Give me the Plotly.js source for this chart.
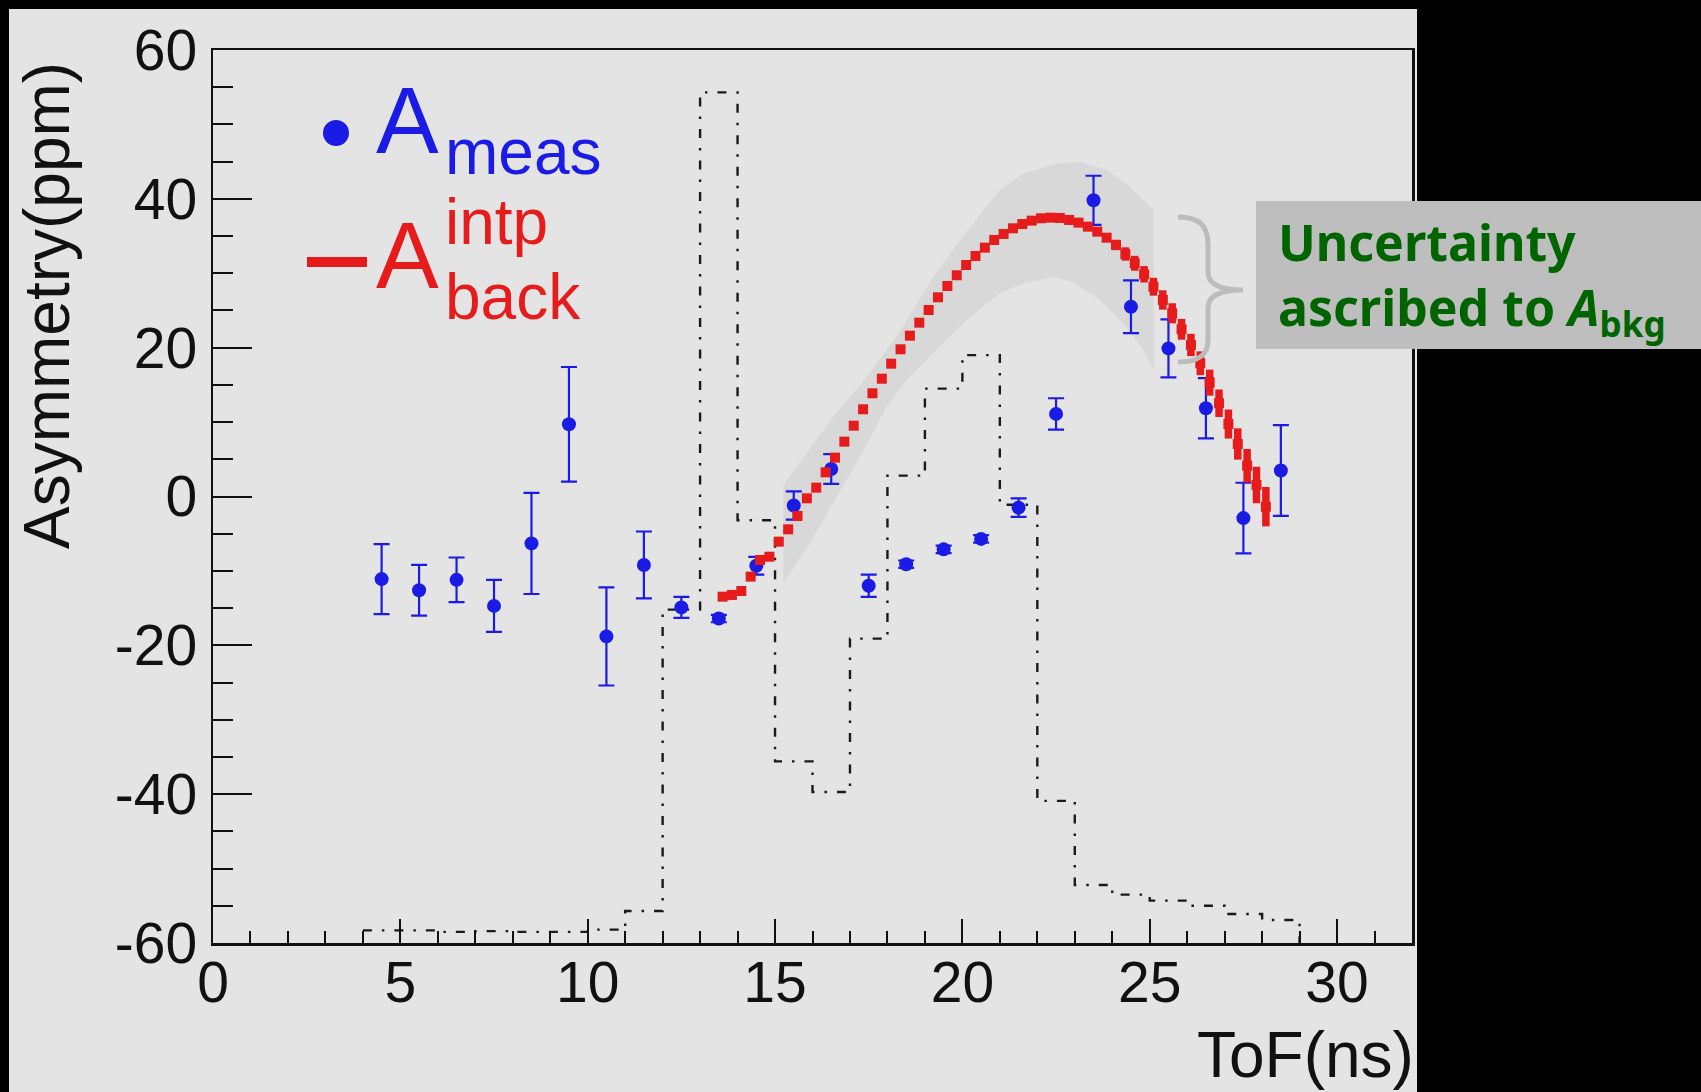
<!DOCTYPE html>
<html><head><meta charset="utf-8">
<script src="https://cdn.plot.ly/plotly-3.0.1.min.js"></script>
<style>html,body{margin:0;padding:0;background:#000;}#chart{width:1701px;height:1092px;}</style>
</head><body><div id="chart"></div>
<script>
// ---- Data ----
const measX = [4.5,5.5,6.5,7.5,8.5,9.5,10.5,11.5,12.5,13.5,14.5,15.5,16.5,17.5,18.5,19.5,20.5,21.5,22.5,23.5,24.5,25.5,26.5,27.5,28.5];
const measY = [-11.1,-12.6,-11.2,-14.7,-6.3,9.7,-18.8,-9.2,-14.9,-16.4,-9.3,-1.2,3.7,-12.0,-9.1,-7.1,-5.7,-1.5,11.1,39.8,25.5,19.9,11.85,-2.9,3.5];
const measErr = [4.7,3.4,3.0,3.5,6.8,7.7,6.6,4.5,1.4,0.5,1.2,1.9,2.0,1.5,0.5,0.5,0.5,1.25,2.1,3.3,3.55,3.9,4.05,4.75,6.1];

const bkgX = [13.60,13.85,14.10,14.35,14.60,14.85,15.10,15.35,15.60,15.85,16.10,16.35,16.60,16.85,17.10,17.35,17.60,17.85,18.10,18.35,18.60,18.85,19.10,19.35,19.60,19.85,20.10,20.35,20.60,20.85,21.10,21.35,21.60,21.85,22.10,22.35,22.60,22.85,23.10,23.35,23.60,23.85,24.10,24.35,24.60,24.85,25.10,25.35,25.60,25.85,26.10,26.35,26.60,26.85,27.10,27.35,27.60,27.85,28.10];
const bkgY = [-13.46,-13.23,-12.70,-10.77,-8.53,-8.09,-6.07,-4.41,-2.62,-0.24,1.19,3.25,5.22,7.37,9.52,11.72,13.87,15.83,17.85,19.78,21.61,23.36,25.06,26.77,28.29,29.73,31.11,32.32,33.44,34.47,35.28,36.04,36.62,37.07,37.39,37.47,37.43,37.16,36.80,36.26,35.59,34.78,33.80,32.59,31.34,29.86,28.19,26.41,24.62,22.47,20.36,17.90,15.30,12.53,9.74,7.06,4.14,1.55,-1.37];
const bkgErr = [0.3,0.3,0.3,0.3,0.3,0.3,0.3,0.3,0.3,0.3,0.3,0.3,0.3,0.3,0.3,0.3,0.3,0.3,0.3,0.3,0.3,0.3,0.3,0.3,0.3,0.3,0.3,0.3,0.3,0.3,0.3,0.3,0.3,0.3,0.3,0.35,0.35,0.4,0.4,0.45,0.5,0.5,0.7,0.9,1.0,1.1,1.2,1.3,1.35,1.4,1.5,1.6,1.75,1.85,1.95,2.1,2.25,2.45,2.65];

const bandUpperX = [15.22,15.67,16.55,17.45,18.33,19.22,20.11,21.00,21.63,22.52,23.14,23.85,24.47,25.10];
const bandUpperY = [1.55,4.68,10.73,16.10,22.15,29.54,35.59,41.2,43.4,44.7,44.9,43.9,41.6,38.5];
const bandLowerX = [15.22,15.93,16.55,17.27,17.98,18.51,19.22,20.11,21.00,21.63,22.43,22.96,23.67,24.29,24.83,25.11];
const bandLowerY = [-11.66,-6.29,-0.91,5.35,12.07,15.66,19.24,23.72,27.3,28.65,29.46,28.87,26.41,23.28,19.69,17.0];

const histEdges = [4,5,6,7,8,9,10,11,12,13,14,15,16,17,18,19,20,21,22,23,24,25,26,27,28,29];
const histVals = [-58.3,-58.3,-58.5,-58.4,-58.5,-58.5,-58.2,-55.7,-15.2,54.3,-3.2,-35.6,-39.7,-19.1,2.8,14.5,19.0,-1.1,-40.9,-52.2,-53.5,-54.3,-55.0,-56.1,-56.9,-60];

const xTickVals = [0,5,10,15,20,25,30];
const xTickText = ['0','5','10','15','20','25','30'];
const yTickVals = [-60,-40,-20,0,20,40,60];
const yTickText = ['-60','-40','-20','0','20','40','60'];

// ---- Layout geometry (pixels) ----
const L = 213, T = 50, W = 1199, H = 893;
const px = v => (v - L) / W;
const py = v => (T + H - v) / H;

const BLUE = '#1b1be6', RED = '#e61c1c', BG = '#e4e4e4';
const FONT = 'Liberation Sans, Arial, Helvetica, sans-serif';
const GFONT = 'Noto Sans, DejaVu Sans, sans-serif';

const bandX = bandUpperX.concat(bandLowerX.slice().reverse());
const bandY = bandUpperY.concat(bandLowerY.slice().reverse());

const traces = [
  {x: bandX, y: bandY, mode: 'lines', fill: 'toself', fillcolor: '#d8d8d8', line: {width: 0}, hoverinfo: 'skip', showlegend: false},
  {x: histEdges, y: histVals, mode: 'lines', line: {shape: 'hv', dash: '9px,10px,2.5px,10px', width: 2.4, color: '#1a1a1a'}, showlegend: false},
  {x: measX, y: measY, mode: 'markers', marker: {size: 14, color: BLUE},
   error_y: {type: 'data', array: measErr, visible: true, color: BLUE, thickness: 2.2, width: 8}, showlegend: false},
  {x: bkgX, y: bkgY, mode: 'markers', marker: {symbol: 'square', size: 10, color: RED},
   error_y: {type: 'data', array: bkgErr, visible: true, color: RED, thickness: 7.5, width: 0}, showlegend: false}
];

const brace = [[1178,217],[1200,217],[1208,226],[1208,245],[1208,272],[1208,284],[1220,290],[1243,290],[1220,290],[1208,296],[1208,308],[1208,340],[1208,354],[1200,362],[1178,362]];
const P = p => px(p[0]) + ',' + py(p[1]);
const bracePath = 'M' + P(brace[0]) + ' C' + P(brace[1]) + ' ' + P(brace[2]) + ' ' + P(brace[3]) +
  ' L' + P(brace[4]) + ' C' + P(brace[5]) + ' ' + P(brace[6]) + ' ' + P(brace[7]) +
  ' C' + P(brace[8]) + ' ' + P(brace[9]) + ' ' + P(brace[10]) +
  ' L' + P(brace[11]) + ' C' + P(brace[12]) + ' ' + P(brace[13]) + ' ' + P(brace[14]);

const shapes = [
  {type: 'rect', xref: 'paper', yref: 'paper', x0: px(9), x1: px(1417), y0: py(1100), y1: py(9), fillcolor: BG, line: {width: 0}, layer: 'below'},
  {type: 'circle', xref: 'paper', yref: 'paper', x0: px(323), x1: px(349), y0: py(146), y1: py(120), fillcolor: BLUE, line: {width: 0}},
  {type: 'line', xref: 'paper', yref: 'paper', x0: px(307), x1: px(367), y0: py(262), y1: py(262), line: {color: RED, width: 10}},
  {type: 'rect', xref: 'paper', yref: 'paper', x0: px(1256), x1: px(1710), y0: py(349), y1: py(201), fillcolor: '#bebebe', line: {width: 0}, layer: 'above'},
  {type: 'path', xref: 'paper', yref: 'paper', path: bracePath, line: {color: '#bcbcbc', width: 5}, layer: 'above'}
];

const ann = (text, x, y, size, color, xa, ya, extra) => Object.assign({
  text: text, xref: 'paper', yref: 'paper', x: px(x), y: py(y), showarrow: false,
  xanchor: xa, yanchor: ya, font: {family: FONT, size: size, color: color}
}, extra || {});

const annotations = [
  ann('A', 374, 120, 94, BLUE, 'left', 'middle'),
  ann('meas', 443, 152, 64, BLUE, 'left', 'middle'),
  ann('A', 374, 255, 94, RED, 'left', 'middle'),
  ann('intp', 443, 222, 64, RED, 'left', 'middle'),
  ann('back', 443, 297, 64, RED, 'left', 'middle'),
  ann('Asymmetry(ppm)', 47, 306, 64, '#111', 'center', 'middle', {textangle: -90}),
  ann('ToF(ns)', 1416, 1055, 64, '#111', 'right', 'middle'),
  ann('Uncertainty<br>ascribed to <i>A</i><sub>bkg</sub>', 1276, 277, 50, '#006400', 'left', 'middle',
      {align: 'left', font: {family: GFONT, size: 50, color: '#006400', weight: 'bold'}})
];

const axisCommon = {
  showgrid: false, zeroline: false, showline: true, linecolor: '#111', linewidth: 2.5, mirror: true,
  ticks: 'inside', tickcolor: '#111', tickwidth: 2, tickmode: 'array',
  tickfont: {family: FONT, size: 57, color: '#111'}
};

const layout = {
  width: 1701, height: 1092,
  margin: {l: L, r: 1701 - L - W, t: T, b: 1092 - T - H, pad: 0},
  paper_bgcolor: '#000000', plot_bgcolor: 'rgba(0,0,0,0)',
  showlegend: false,
  xaxis: Object.assign({}, axisCommon, {range: [0, 32], tickvals: xTickVals, ticktext: xTickText, ticklen: 24, ticklabelstandoff: -12,
    minor: {ticks: 'inside', dtick: 1, tick0: 0, ticklen: 12, tickwidth: 2, tickcolor: '#111', showgrid: false}}),
  yaxis: Object.assign({}, axisCommon, {range: [-60, 60], tickvals: yTickVals, ticktext: yTickText, ticklen: 39, ticklabelstandoff: 2,
    minor: {ticks: 'inside', dtick: 5, tick0: 0, ticklen: 20, tickwidth: 2, tickcolor: '#111', showgrid: false}}),
  shapes: shapes,
  annotations: annotations
};

Plotly.newPlot('chart', traces, layout, {displayModeBar: false, staticPlot: true});
</script>
</body></html>
